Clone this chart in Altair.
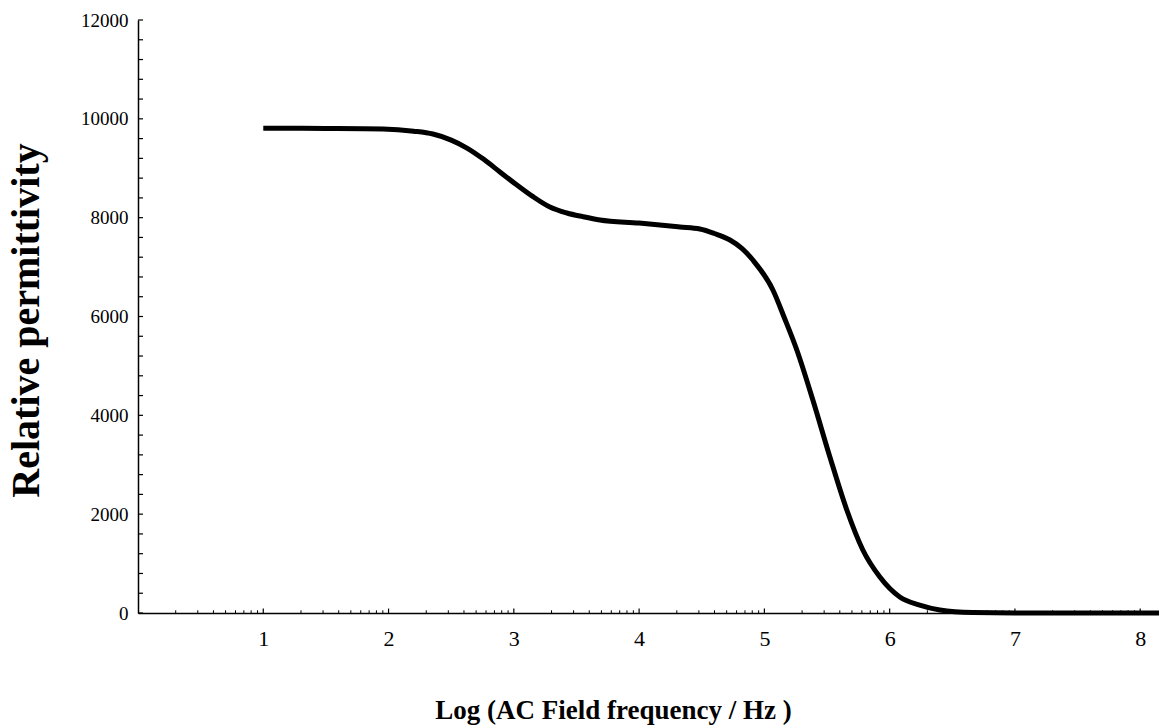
import math
import altair as alt
import pandas as pd

# ---- data ----
log_freq = [1.00, 1.50, 1.955, 2.20, 2.354, 2.50, 2.626, 2.76, 2.889, 3.025, 3.15, 3.288, 3.424,
            3.55, 3.687, 4.00, 4.326, 4.485, 4.60, 4.725, 4.82, 4.908, 5.068, 5.16, 5.259, 5.387,
            5.523, 5.658, 5.786, 5.922, 6.081, 6.24, 6.401, 6.664, 7.0, 7.5, 8.15]
permittivity = [9810, 9805, 9794, 9750, 9692, 9570, 9409, 9180, 8924, 8660, 8430, 8215, 8094,
                8020, 7952, 7890, 7811, 7770, 7680, 7548, 7380, 7143, 6536, 5970, 5322, 4310,
                3157, 2084, 1275, 728, 324, 160, 61, 10, 0, 0, 0]

x_tick_labels = [1, 2, 3, 4, 5, 6, 7, 8]
y_tick_labels = [0, 2000, 4000, 6000, 8000, 10000, 12000]
x_domain = [0, 8.15]
y_domain = [0, 12000]

# small inward tick marks (log-style minor ticks on x, every 400 on y)
x_minor = [n + math.log10(k) for n in range(0, 8) for k in range(2, 10)]
y_minor = list(range(0, 12001, 400))

curve = pd.DataFrame({"x": log_freq, "y": permittivity})
xmin_df = pd.DataFrame({"x": x_minor, "y0": 0, "y1": 55})
xmaj_df = pd.DataFrame({"x": x_tick_labels, "y0": 0, "y1": 90})
ymin_df = pd.DataFrame({"y": y_minor, "x0": 0.0, "x1": 0.04})

FONT = "Liberation Serif"

xscale = alt.Scale(domain=x_domain, nice=False, zero=False)
yscale = alt.Scale(domain=y_domain, nice=False)

xaxis = alt.Axis(
    values=x_tick_labels, format="d", title="Log (AC Field frequency / Hz )", grid=False,
    ticks=False, tickSize=0, labelPadding=15, labelFont=FONT, labelFontSize=22,
    labelColor="black", domainColor="black", domainWidth=1.5,
    titleFont=FONT, titleFontSize=27, titleFontWeight="bold", titleColor="black",
    titleX=475, titleY=97, titleBaseline="middle", titleAlign="center",
)
yaxis = alt.Axis(
    values=y_tick_labels, format="d", title="Relative permittivity", grid=False,
    ticks=False, tickSize=0, labelPadding=10, labelFont=FONT, labelFontSize=19,
    labelColor="black", domainColor="black", domainWidth=1.5,
    titleFont=FONT, titleFontSize=40, titleFontWeight="bold", titleColor="black",
    titleX=-112, titleY=300, titleAngle=-90, titleBaseline="middle", titleAlign="center",
)

line = alt.Chart(curve).mark_line(color="black", strokeWidth=5, interpolate="monotone").encode(
    x=alt.X("x:Q", scale=xscale, axis=xaxis),
    y=alt.Y("y:Q", scale=yscale, axis=yaxis),
)

xminor = alt.Chart(xmin_df).mark_rule(color="black", strokeWidth=1).encode(
    x="x:Q", y="y0:Q", y2="y1:Q"
)
xmajor = alt.Chart(xmaj_df).mark_rule(color="black", strokeWidth=1.2).encode(
    x="x:Q", y="y0:Q", y2="y1:Q"
)
yminor = alt.Chart(ymin_df).mark_rule(color="black", strokeWidth=1.2).encode(
    y="y:Q", x="x0:Q", x2="x1:Q"
)

chart = alt.layer(xminor, xmajor, yminor, line).properties(
    width=1021, height=593,
    autosize=alt.AutoSizeParams(type="none"),
    padding={"left": 138, "top": 20, "right": 0, "bottom": 115},
    background="white",
).configure_view(stroke=None)

chart.save("out.html", embed_options={"renderer": "svg", "actions": False})
